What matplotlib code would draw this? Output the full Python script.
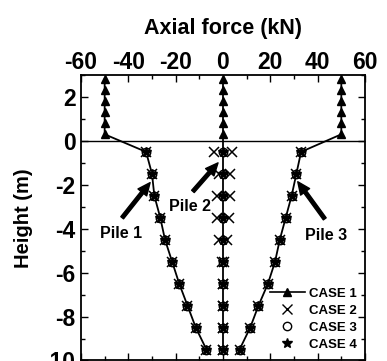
import matplotlib
matplotlib.use("Agg")
import matplotlib.pyplot as plt
from matplotlib.ticker import MultipleLocator
from matplotlib.lines import Line2D

plt.rcParams['font.family'] = ['Liberation Sans', 'DejaVu Sans']
plt.rcParams['font.weight'] = 'bold'
plt.rcParams['axes.labelweight'] = 'bold'
plt.rcParams['axes.unicode_minus'] = False

# Heights (m)
h_above = [0.3, 0.8, 1.3, 1.8, 2.3, 2.8]
h_below = [-0.5, -1.5, -2.5, -3.5, -4.5, -5.5, -6.5, -7.5, -8.5, -9.5]

# Axial force (kN) above ground (case 1)
p1_above = [-50, -50, -50, -50, -50, -50]
p2_above = [0, 0, 0, 0, 0, 0]
p3_above = [50, 50, 50, 50, 50, 50]

# Below ground, cases 1/3/4 (nearly identical)
p1_below = [-32.5, -30, -29, -26.5, -24.5, -21.5, -18.5, -15, -11.5, -7]
p2_below = [0, 0, 0, 0, 0, 0, 0, 0, 0, 0]
p3_below = [33, 31, 29, 26.5, 24, 22, 19, 15, 11.5, 7]

# Case 2 at pile 2 splits into two branches
c2_p2_left = [-4, -1.5, -2.5, -2.5, -1.5, -0.5, 0, 0, 0, 0]
c2_p2_right = [3.8, 3, 3, 2.5, 1.5, 0.5, 0, 0, 0, 0]

fig = plt.figure(figsize=(3.87, 3.61), dpi=100)
ax = fig.add_axes([0.2093, 0.0014, 0.7338, 0.7908])

ax.axhline(0, color='k', lw=1.0, zorder=1)

# Case 1 lines
for pa, pb in [(p1_above, p1_below), (p2_above, p2_below), (p3_above, p3_below)]:
    ax.plot(pa[::-1] + pb, h_above[::-1] + h_below, color='k', lw=1.3, zorder=2)
    ax.plot(pa, h_above, linestyle='none', marker='^', color='k', ms=5.5, zorder=3)

# Case 2
for xs in [p1_below, c2_p2_left, c2_p2_right, p3_below]:
    ax.plot(xs, h_below, linestyle='none', marker='x', color='k', ms=6.5, mew=1.1, zorder=3)
# Case 3
for xs in [p1_below, p2_below, p3_below]:
    ax.plot(xs, h_below, linestyle='none', marker='o', mfc='white', mec='k', ms=6, mew=1.1, zorder=4)
# Case 4
for xs in [p1_below, p2_below, p3_below]:
    ax.plot(xs, h_below, linestyle='none', marker='*', color='k', ms=7.5, zorder=5)

ax.set_xlim(-60, 60)
ax.set_ylim(-10, 3)
ax.xaxis.set_major_locator(MultipleLocator(20))
ax.xaxis.set_minor_locator(MultipleLocator(10))
ax.yaxis.set_major_locator(MultipleLocator(2))
ax.yaxis.set_minor_locator(MultipleLocator(1))
ax.xaxis.tick_top()
ax.xaxis.set_label_position('top')
ax.tick_params(which='both', direction='in', top=True, bottom=True, left=True, right=True,
               labeltop=True, labelbottom=False, labelsize=16.5, width=1.0)
ax.tick_params(which='major', length=5)
ax.tick_params(axis='x', which='major', pad=1.0)
ax.tick_params(axis='y', which='major', pad=4)
ax.tick_params(which='minor', length=3)
for s in ax.spines.values():
    s.set_linewidth(1.3)

ax.set_xlabel('Axial force (kN)', fontsize=15.5, labelpad=12)
ax.set_ylabel('Height (m)', fontsize=14.5, labelpad=7)

# Pile annotations
arrow = dict(facecolor='black', edgecolor='black', width=2.5, headwidth=8, headlength=9, shrink=0)
ax.annotate('', xy=(-30.8, -1.9), xytext=(-42.6, -3.5), arrowprops=arrow)
ax.text(-43, -4.2, 'Pile 1', fontsize=11.5, ha='center', va='center')
ax.annotate('', xy=(-2.1, -1.0), xytext=(-12.7, -2.3), arrowprops=arrow)
ax.text(-14, -3.0, 'Pile 2', fontsize=11.5, ha='center', va='center')
ax.annotate('', xy=(31.6, -1.86), xytext=(43, -3.55), arrowprops=arrow)
ax.text(43.5, -4.3, 'Pile 3', fontsize=11.5, ha='center', va='center')

handles = [
    Line2D([], [], color='k', lw=1.2, marker='^', ms=5.5),
    Line2D([], [], color='k', linestyle='none', marker='x', ms=6.5),
    Line2D([], [], linestyle='none', marker='o', mfc='white', mec='k', ms=6),
    Line2D([], [], color='k', linestyle='none', marker='*', ms=7.5),
]
ax.legend(handles, ['CASE 1', 'CASE 2', 'CASE 3', 'CASE 4'], loc='lower right',
          bbox_to_anchor=(0.972, 0.035), frameon=False, fontsize=9.5,
          handlelength=2.7, handletextpad=0.3, labelspacing=0.35, borderaxespad=0.0,
          borderpad=0.0)

fig.savefig('out.png', dpi=100)
